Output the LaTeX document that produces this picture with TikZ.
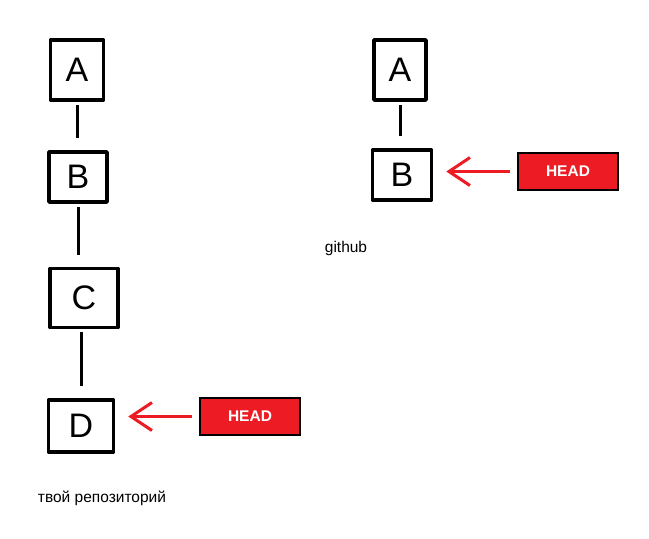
\documentclass[tikz,border=0pt]{standalone}
\usepackage{fontspec}
\setmainfont{Liberation Sans}
\usetikzlibrary{arrows.meta}

\definecolor{paintred}{HTML}{ED1C24}

\begin{document}
\begin{tikzpicture}[x=1pt,y=-1pt,
		commit/.style={draw,line width=3.5pt,line join=round,inner sep=0pt,font=\fontsize{34}{34}\selectfont},
		link/.style={line width=3pt,shorten <=3pt,shorten >=12pt},
		headbox/.style={draw,fill=paintred,line width=2.5pt,minimum width=100pt,minimum height=37pt,
			text=white,font=\fontsize{15.5}{16}\selectfont\bfseries},
		pointer/.style={paintred,line width=3pt,-{Straight Barb[length=21pt,width=28pt]},shorten <=7pt,shorten >=13pt},
		caption/.style={font=\fontsize{15.5}{16}\selectfont}]
		\useasboundingbox (0,0) rectangle (649,539);
		
		% your repository
		\node[commit,minimum width=53pt,minimum height=60pt] (lA) at (77,70) {A};
		\node[commit,minimum width=58pt,minimum height=50pt] (lB) at (78,177) {B};
		\node[commit,minimum width=68pt,minimum height=59pt] (lC) at (84,298) {C};
		\node[commit,minimum width=65pt,minimum height=52pt] (lD) at (81,426) {D};
		\draw[link] (lA) -- (lA |- lB.north);
		\draw[link] (lB) -- (lB |- lC.north);
		\draw[link] (lD |- lC.south) -- (lD);
		\node[headbox] (lHead) at (250,416.5) {HEAD};
		\draw[pointer] (lHead.west) -- (lD.east |- lHead.west);
		\node[caption] (lName) at (102,498) {твой репозиторий};
		
		% github
		\node[commit,minimum width=52pt,minimum height=60pt] (rA) at (400,70) {A};
		\node[commit,minimum width=59pt,minimum height=50pt] (rB) at (402,175) {B};
		\draw[link] (rA) -- (rA |- rB.north);
		\node[headbox] (rHead) at (568,171.5) {HEAD};
		\draw[pointer] (rHead.west) -- (rB.east |- rHead.west);
		\node[caption] (rName) at (346,248) {github};
	\end{tikzpicture}
\end{document}
